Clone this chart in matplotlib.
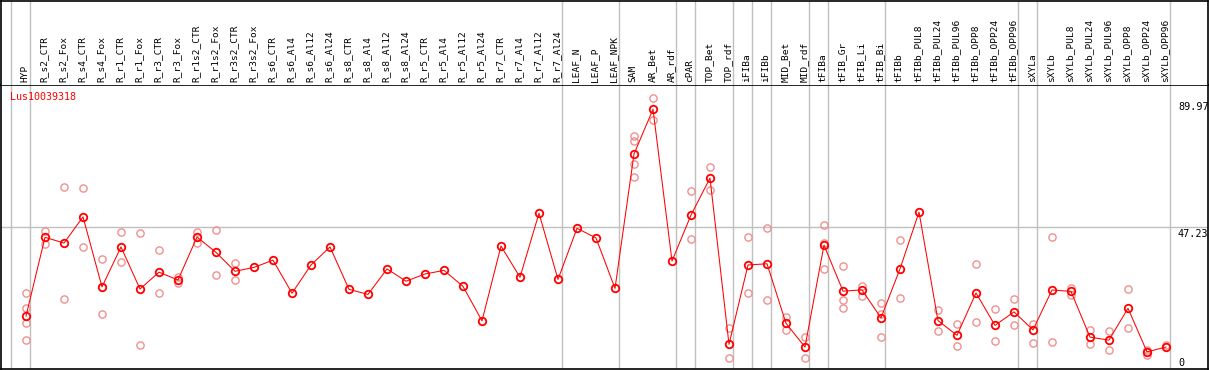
import matplotlib
matplotlib.use("Agg")
import matplotlib.pyplot as plt

# sample labels, left to right
samples = ["HYP", "R_s2_CTR", "R_s2_Fox", "R_s4_CTR", "R_s4_Fox", "R_r1_CTR", "R_r1_Fox",
           "R_r3_CTR", "R_r3_Fox", "R_r1s2_CTR", "R_r1s2_Fox", "R_r3s2_CTR", "R_r3s2_Fox",
           "R_s6_CTR", "R_s6_Al4", "R_s6_Al12", "R_s6_Al24", "R_s8_CTR", "R_s8_Al4",
           "R_s8_Al12", "R_s8_Al24", "R_r5_CTR", "R_r5_Al4", "R_r5_Al12", "R_r5_Al24",
           "R_r7_CTR", "R_r7_Al4", "R_r7_Al12", "R_r7_Al24", "LEAF_N", "LEAF_P", "LEAF_NPK",
           "SAM", "AR_Bet", "AR_rdf", "cPAR", "TOP_Bet", "TOP_rdf", "iFIBa", "iFIBb",
           "MID_Bet", "MID_rdf", "tFIBa", "tFIB_Gr", "tFIB_Li", "tFIB_Bi", "tFIBb",
           "tFIBb_PUL8", "tFIBb_PUL24", "tFIBb_PUL96", "tFIBb_OPP8", "tFIBb_OPP24",
           "tFIBb_OPP96", "sXYLa", "sXYLb", "sXYLb_PUL8", "sXYLb_PUL24", "sXYLb_PUL96",
           "sXYLb_OPP8", "sXYLb_OPP24", "sXYLb_OPP96"]

# mean expression per sample
means = [17.6, 43.8, 41.9, 50.6, 27.3, 40.6, 26.6, 32.2, 29.6, 43.9, 38.8, 32.5, 33.8,
         36.2, 25.2, 34.6, 40.6, 26.5, 24.8, 33.3, 29.2, 31.6, 32.8, 27.5, 16.0,
         40.9, 30.5, 51.8, 29.8, 46.8, 43.6, 26.8,
         71.5, 86.4, 35.9, 51.2, 63.5, 8.2, 34.6, 35.0, 15.2, 7.3,
         41.2, 25.9, 26.3, 17.0, 33.3, 52.2, 16.1, 11.2, 25.3, 14.5, 19.0,
         13.0, 26.3, 25.8, 10.6, 9.6, 20.2, 5.7, 7.3]

# individual replicates (empty where hidden behind the mean)
replicates = [[25.2, 20.3, 15.2, 9.5], [45.9, 41.6], [60.4, 23.3], [60.1, 40.5],
              [36.5, 18.2], [45.5, 35.6], [45.2, 7.9], [39.5, 25.3], [30.7, 28.5],
              [45.6, 41.8], [46.1, 31.3], [35.3, 29.5], [], [], [], [], [], [], [],
              [], [], [], [], [], [], [], [], [], [], [], [], [],
              [77.5, 75.8, 68.1, 64.0], [90.0, 82.7], [], [59.1, 43.2], [67.1, 59.4],
              [13.5, 3.7], [43.9, 25.2], [46.8, 22.8], [17.3, 13.0], [10.6, 3.6],
              [47.8, 41.9, 33.2], [34.3, 22.9, 20.2], [27.7, 24.3], [21.8, 18.2, 10.6],
              [42.9, 23.5], [], [19.6, 12.6], [14.9, 7.7], [34.9, 15.6], [20.0, 9.3],
              [23.3, 14.6], [15.0, 8.6], [43.8, 9.0], [27.0, 24.5], [13.0, 8.2],
              [12.5, 6.3], [26.5, 13.5], [4.6, 6.3], [8.0]]

# group separators (after these sample indices)
separators = [-1, 0, 28, 31, 34, 35, 37, 38, 39, 41, 42, 45, 52, 53, 60]
gene = "Lus10039318"
ymax_label = 89.97
ymid_label = 47.23

W, H = 1209, 370
fig = plt.figure(figsize=(W / 100, H / 100), dpi=100)
plt.rcParams['font.family'] = 'DejaVu Sans Mono'

x0 = (1 - 26) / 19
x1 = (1208 - 26) / 19
ax = fig.add_axes([1 / W, 1 / H, 1207 / W, (369 - 85) / H])
lab = fig.add_axes([1 / W, (370 - 85) / H, 1207 / W, 84.5 / H], sharex=ax)

xs = list(range(len(samples)))
for i, reps in enumerate(replicates):
    if reps:
        ax.plot([i] * len(reps), reps, 'o', ms=5.2, mfc='none', mec='#f09090', mew=1.0, zorder=3)
ax.plot(xs, means, '-', color='#ff0000', lw=0.75, zorder=4)
ax.plot(xs, means, 'o', ms=5.4, mfc='none', mec='#ff0000', mew=1.3, zorder=5)

ax.axhline(ymid_label, color='#c0c0c0', lw=1, zorder=1)
for s in separators:
    ax.axvline(s + 4 / 19, color='#c0c0c0', lw=1, zorder=1)
    lab.axvline(s + 4 / 19, color='#c0c0c0', lw=1, zorder=1)

ax.set_xlim(x0, x1)
ax.set_ylim(0, 2 * ymid_label)
ax.set_xticks([])
ax.set_yticks([])
for sp in ax.spines.values():
    sp.set_color('black')
    sp.set_linewidth(1.2)

ax.text(9 / 1207, 1 - 12 / 284, gene, transform=ax.transAxes, color='#ff0000',
        fontsize=7.2, va='center', ha='left')
xl = (1178 - 26) / 19
ax.text(xl, ymax_label - 1.2, f"{ymax_label:.2f}", fontsize=7.3, va='top', ha='left')
ax.text(xl, ymid_label - 0.6, f"{ymid_label:.2f}", fontsize=7.3, va='top', ha='left')
ax.text(xl, 0.4, "0", fontsize=7.3, va='bottom', ha='left')

lab.set_ylim(0, 1)
lab.set_xticks([])
lab.set_yticks([])
for i, s in enumerate(samples):
    lab.text(i - 0.05, 3 / 84.5, s, rotation=90, fontsize=6.8, ha='center', va='bottom')
lab.spines['bottom'].set_visible(False)
for sp in ['top', 'left', 'right']:
    lab.spines[sp].set_linewidth(1.2)

fig.savefig("out.png", dpi=100)
